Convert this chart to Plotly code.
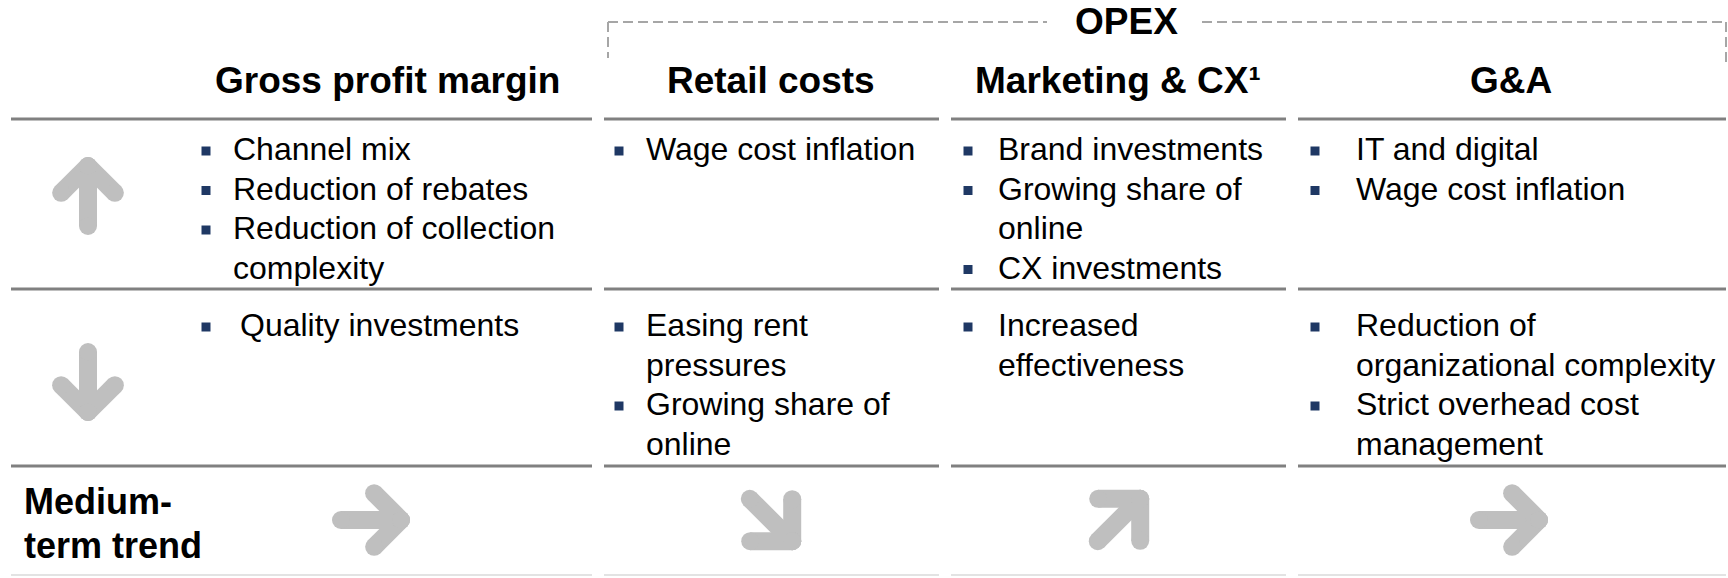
import math
import plotly.graph_objects as go

# ---------------- data ----------------
columns = ["Gross profit margin", "Retail costs", "Marketing & CX¹", "G&A"]
group_label = "OPEX"
row_label = ["Medium-", "term trend"]

up_drivers = [
    ["Channel mix", "Reduction of rebates", "Reduction of collection<br>complexity"],
    ["Wage cost inflation"],
    ["Brand investments", "Growing share of<br>online", "CX investments"],
    ["IT and digital", "Wage cost inflation"],
]
down_drivers = [
    ["Quality investments"],
    ["Easing rent<br>pressures", "Growing share of<br>online"],
    ["Increased<br>effectiveness"],
    ["Reduction of<br>organizational complexity", "Strict overhead cost<br>management"],
]
row_directions = ["up", "down"]
trend = ["right", "down-right", "up-right", "right"]

# ---------------- layout constants (pixels) ----------------
W, H = 1728, 578
FONT = "Liberation Sans, Arial, sans-serif"
col_span = [(11, 592), (604, 939), (951, 1286), (1298, 1726)]
header_x = [387, 771, 1118, 1511]
header_y = 80
bullet_x = [206, 619, 968, 1315]
text_x = [231, 644, 996, 1354]
row_first_y = [149, 325]
line_gap = 39.5
row_lines_y = [119, 289, 466]
bottom_y = 575
row_arrow = [(88, 196), (88, 382)]
trend_x = [371, 771, 1119, 1509]
trend_y = 520
ARROW = "#BFBFBF"
BULLET = "#1F3864"

fig = go.Figure()

# --- table rules ---
shapes = []
for (x0, x1) in col_span:
    for yy in row_lines_y:
        shapes.append(dict(type="line", xref="x", yref="y", x0=x0, x1=x1, y0=yy, y1=yy,
                           line=dict(color="#808080", width=3)))
    shapes.append(dict(type="line", xref="x", yref="y", x0=x0, x1=x1, y0=bottom_y, y1=bottom_y,
                       line=dict(color="#E3E3E3", width=2)))

# --- OPEX dashed bracket ---
opex_x, opex_y = 1126, 21
dash_y = 22
dash = dict(color="#A6A6A6", width=2, dash="10px,5px")
bx0, bx1 = col_span[1][0] + 4, col_span[3][1]
shapes += [
    dict(type="line", x0=bx0, x1=1047, y0=dash_y, y1=dash_y, line=dash),
    dict(type="line", x0=1202, x1=bx1, y0=dash_y, y1=dash_y, line=dash),
    dict(type="line", x0=bx0, x1=bx0, y0=dash_y, y1=58, line=dash),
    dict(type="line", x0=bx1, x1=bx1, y0=dash_y, y1=67, line=dash),
]

annotations = []
annotations.append(dict(x=opex_x, y=opex_y, text=f"<b>{group_label}</b>", showarrow=False,
                        xanchor="center", yanchor="middle", font=dict(family=FONT, size=37, color="black")))

# --- headers ---
for i, name in enumerate(columns):
    annotations.append(dict(x=header_x[i], y=header_y, text=f"<b>{name}</b>", showarrow=False,
                            xanchor="center", yanchor="middle",
                            font=dict(family=FONT, size=37, color="black")))

# --- bullet text ---
bx, by = [], []
for r, drivers in enumerate([up_drivers, down_drivers]):
    for c, items in enumerate(drivers):
        k = 0
        for n, item in enumerate(items):
            ind = 7 if (r == 1 and c == 0) else 0
            for j, line in enumerate(item.split("<br>")):
                yy = row_first_y[r] + k * line_gap
                if j == 0:
                    bx.append(bullet_x[c])
                    by.append(yy + 2)
                annotations.append(dict(x=text_x[c] + ind, y=yy, text=line, showarrow=False,
                                        xanchor="left", yanchor="middle",
                                        font=dict(family=FONT, size=32, color="black")))
                k += 1

fig.add_trace(go.Scatter(x=bx, y=by, mode="markers", hoverinfo="skip",
                         marker=dict(symbol="square", size=9, color=BULLET, line=dict(width=0))))

# --- row label ---
for j, line in enumerate(row_label):
    annotations.append(dict(x=22, y=501 + j * 44, text=f"<b>{line}</b>", showarrow=False,
                            xanchor="left", yanchor="middle",
                            font=dict(family=FONT, size=36, color="black")))

# --- arrows ---
DIRS = {"up": (0, -1), "down": (0, 1), "right": (1, 0),
        "down-right": (math.sqrt(0.5), math.sqrt(0.5)), "up-right": (math.sqrt(0.5), -math.sqrt(0.5))}


def arrow_trace(cx, cy, direction):
    dx, dy = DIRS[direction]
    diag = dx != 0 and dy != 0
    L, h = (60, 42) if diag else (60, 38)
    tip = (cx + dx * L / 2, cy + dy * L / 2)
    tail = (cx - dx * L / 2, cy - dy * L / 2)
    xs, ys = [tail[0], tip[0], None], [tail[1], tip[1], None]
    for s in (1, -1):
        a = s * math.pi / 4
        bxv, byv = -dx, -dy
        rx = bxv * math.cos(a) - byv * math.sin(a)
        ry = bxv * math.sin(a) + byv * math.cos(a)
        xs += [tip[0] + rx * h, tip[0], None]
        ys += [tip[1] + ry * h, tip[1], None]
    return go.Scatter(x=xs, y=ys, mode="lines+markers", hoverinfo="skip",
                      line=dict(color=ARROW, width=18),
                      marker=dict(color=ARROW, size=18, line=dict(width=0)))


for (cx, cy), d in zip(row_arrow, row_directions):
    fig.add_trace(arrow_trace(cx, cy, d))
for cx, d in zip(trend_x, trend):
    fig.add_trace(arrow_trace(cx, trend_y, d))

fig.update_layout(
    width=W, height=H, margin=dict(l=0, r=0, t=0, b=0),
    paper_bgcolor="white", plot_bgcolor="white", showlegend=False,
    xaxis=dict(range=[0, W], visible=False, fixedrange=True),
    yaxis=dict(range=[H, 0], visible=False, fixedrange=True),
    shapes=shapes, annotations=annotations,
)
fig.write_html("out.html", config={"displayModeBar": False},
               post_script="document.body.style.margin='0';document.body.style.overflow='hidden';")
